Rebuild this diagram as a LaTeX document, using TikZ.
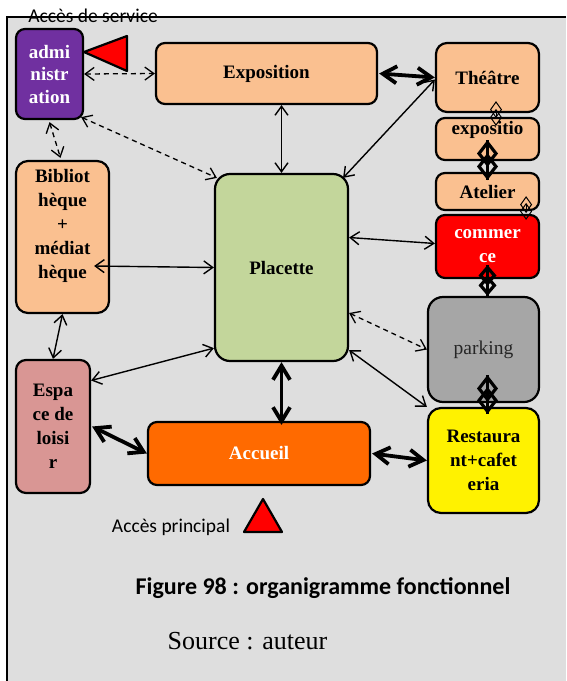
\documentclass[tikz,border=0pt]{standalone}
\usepackage{fontspec}
\setmainfont{Liberation Serif}
\newfontfamily\calfont{Carlito}
\usetikzlibrary{arrows.meta,calc}
\definecolor{bg}{HTML}{DEDEDE}
\definecolor{peach}{HTML}{FAC090}
\definecolor{purp}{HTML}{7030A0}
\definecolor{greenbox}{HTML}{C3D69B}
\definecolor{pinkbox}{HTML}{D99694}
\definecolor{orangebox}{HTML}{FF6A00}
\definecolor{greybox}{HTML}{A6A6A6}
\tikzset{
  box/.style={draw, line width=2.2, rounded corners=9, inner sep=0pt,
    font=\fontsize{19}{24}\selectfont\bfseries, align=center},
  thinline/.style={line width=1.4, {Straight Barb[length=9pt,width=13pt]}-{Straight Barb[length=9pt,width=13pt]}},
  dashline/.style={line width=1.3, dash pattern=on 5pt off 4pt, {Straight Barb[length=9pt,width=13pt]}-{Straight Barb[length=9pt,width=13pt]}},
  thickline/.style={line width=3.8, {Straight Barb[length=14pt,width=17pt]}-{Straight Barb[length=14pt,width=17pt]}},
  diathin/.style={line width=1, {Diamond[open,length=17pt,width=12pt]}-{Diamond[open,length=17pt,width=12pt]}},
  diathick/.style={line width=3.2, {Diamond[open,length=27pt,width=21pt]}-{Diamond[open,length=27pt,width=21pt]}},
  diamid/.style={line width=3.2, {Diamond[open,length=21pt,width=18pt]}-{Diamond[open,length=21pt,width=18pt]}},
  tri/.style={fill=red, draw=black, line width=2.2, line join=round},
  note/.style={font=\calfont\fontsize{19.5}{22}\selectfont, inner sep=0pt},
}
\begin{document}
\begin{tikzpicture}[x=1pt,y=-1pt]
\useasboundingbox (0,0) rectangle (566,681);
\fill[bg] (7,17) rectangle (566,681);
\draw[line width=2] (7,681) -- (7,17) -- (566,17);
\node[note] (service) at (93,16) {Accès de service};

% boxes
\node[box, fill=purp, text=white, font=\fontsize{19}{22.5}\selectfont\bfseries,
  minimum width=67, minimum height=90] (admin) at (49.5,74) {admi\\nistr\\ation};
\node[box, fill=peach, minimum width=221, minimum height=61] (expo) at (266.5,73.5) {Exposition};
\node[box, fill=peach, rounded corners=11, minimum width=103, minimum height=69] (theatre) at (487.5,77.5) {Théâtre};
\node[box, fill=peach, minimum width=103, minimum height=42,
  label={[font=\fontsize{19}{24}\selectfont\bfseries, yshift=9]center:expositio}] (expo2) at (487.5,139) {};
\node[box, fill=peach, minimum width=103, minimum height=37] (atelier) at (487.5,191.5) {Atelier};
\node[box, fill=red, text=white, minimum width=103, minimum height=63] (commerce) at (487.5,246.5) {commer\\ce};
\node[box, fill=greybox, rounded corners=15, font=\fontsize{19.5}{24}\selectfont, text=black!85,
  minimum width=111, minimum height=105] (parking) at (483.5,349.5) {parking};
\node[box, fill=yellow, rounded corners=13, minimum width=111, minimum height=105] (resto) at (483.5,460.5) {Restaura\\nt+cafet\\eria};
\node[box, fill=peach, rounded corners=12, minimum width=93, minimum height=152,
  label={[font=\fontsize{19}{24}\selectfont\bfseries, align=center, yshift=11]center:Bibliot\\hèque\\+\\médiat\\hèque}] (biblio) at (62.5,237) {};
\node[box, fill=greenbox, rounded corners=15, minimum width=133, minimum height=187] (placette) at (281.5,267.5) {Placette};
\node[box, fill=pinkbox, rounded corners=10, minimum width=74, minimum height=133] (espace) at (53,426.5) {Espa\\ce de\\loisi\\r};
\node[box, fill=orangebox, text=white, minimum width=222, minimum height=63] (accueil) at (259,453.5) {Accueil};

% triangles
\draw[tri] (84,52) -- (127,36) -- (127,71) -- cycle;
\draw[tri] (263,499) -- (282,532) -- (244,532) -- cycle;
\node[note] (principal) at (171,527) {Accès principal};

% connectors
\draw[dashline] (admin.east) -- (expo.west);
\draw[dashline] ([xshift=-3pt,yshift=3pt]admin.south east) -- ([xshift=3pt,yshift=-5pt]placette.north west);
\draw[dashline] ([yshift=-2pt]admin.south) -- ([xshift=-2pt,yshift=2pt]biblio.north);
\draw[thinline] (expo.south -| placette.north) -- (placette.north);
\draw[thickline] ([xshift=1pt]expo.east) -- (theatre.west);
\draw[thinline] ([yshift=-2pt]theatre.west) -- ([xshift=-6pt,yshift=-5pt]placette.north east);
\draw[diathin] ([xshift=8.5pt,yshift=12pt]theatre.south) -- ([xshift=8.5pt,yshift=-9pt]expo2.north);
\draw[diathick] ([yshift=-1pt]expo2.center) -- ([yshift=11.5pt]atelier.center);
\draw[line width=3.2] ([yshift=-1pt]expo2.center) -- ([yshift=11.5pt]atelier.center);
\draw[diathin] ([xshift=-14pt,yshift=15pt]atelier.south east) -- ([xshift=-14pt,yshift=-6pt]commerce.north east);
\draw[thinline] ([xshift=-16pt,yshift=-29pt]biblio.east) -- (placette.west);
\draw[thinline] ([yshift=30pt]placette.east) -- ([yshift=3pt]commerce.west);
\draw[thinline] (biblio.south) -- (espace.north);
\draw[thinline] ([yshift=14pt]placette.south west) -- ([yshift=46pt]espace.east);
\draw[dashline] ([yshift=-45.5pt]placette.east) -- (parking.west);
\draw[thinline] ([yshift=12pt]placette.south east) -- (resto.north west);
\draw[thickline] (placette.south) -- ([yshift=-4pt]placette.south |- accueil.north);
\draw[thickline] ([xshift=1pt]espace.east) -- (accueil.west);
\draw[thickline] ([xshift=1pt]accueil.east) -- (resto.west);
\draw[diamid] ([yshift=-18.5pt]commerce.center) -- ([xshift=4pt]parking.north);
\draw[line width=3.2] ([yshift=-18.5pt]commerce.center) -- ([xshift=4pt]parking.north);
\draw[diathick] ([xshift=4pt,yshift=-25.5pt]parking.center) -- ([xshift=4pt,yshift=-7pt]resto.north);
\draw[line width=3.2] ([xshift=4pt,yshift=-25.5pt]parking.center) -- ([xshift=4pt,yshift=-7pt]resto.north);

% captions
\node[font=\calfont\bfseries\fontsize{24}{28}\selectfont, inner sep=0pt] (caption) at (323,588) {Figure 98 : organigramme fonctionnel};
\node[font=\fontsize{26}{30}\selectfont, inner sep=0pt] (source) at (247.5,641) {Source : auteur};
\end{tikzpicture}
\end{document}
